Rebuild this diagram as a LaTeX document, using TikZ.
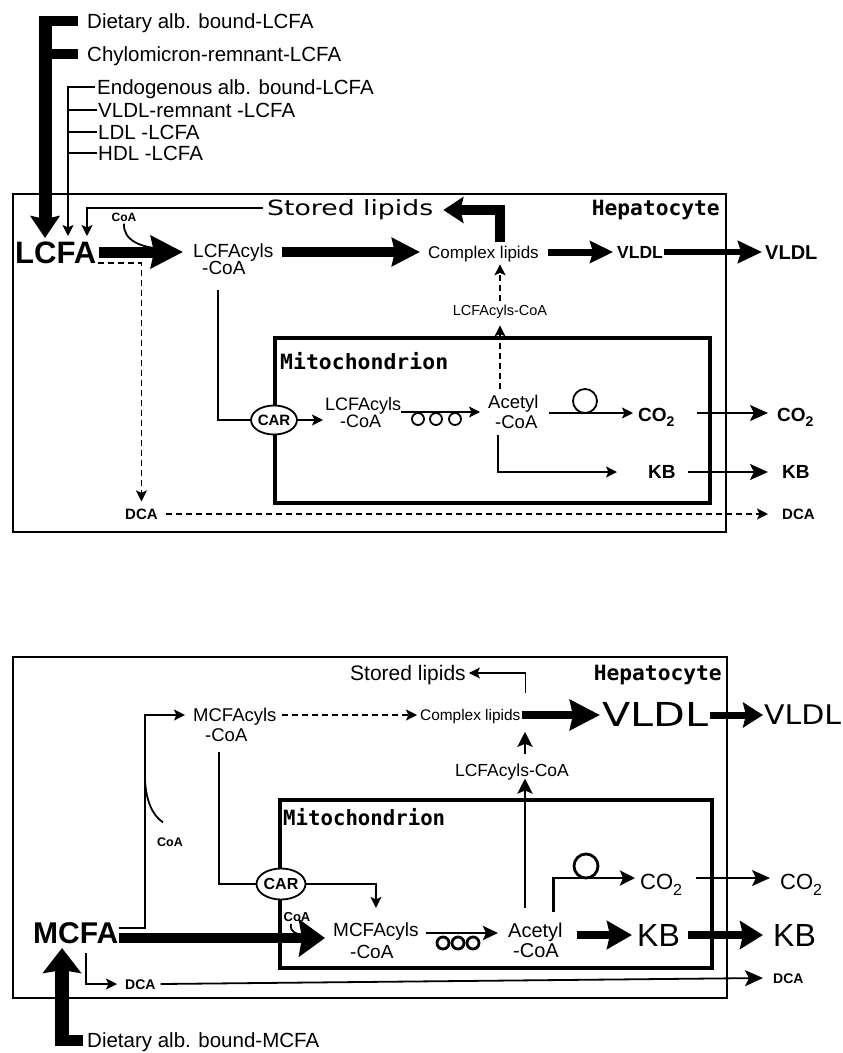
\documentclass[tikz,border=0pt]{standalone}
\usepackage{fontspec}
\usepackage{graphicx}
\setmainfont{Liberation Sans}
\newfontfamily\dvsans{DejaVu Sans}
\newfontfamily\dvmono{DejaVu Sans Mono}
\usetikzlibrary{arrows.meta,shapes.geometric}
\newcommand\fsz[1]{\fontsize{#1}{#1}\selectfont}
\newcommand\fitw[2]{\resizebox{#1pt}{\height}{#2}}
\begin{document}
\begin{tikzpicture}[x=1pt,y=-1pt,line cap=butt,line join=miter,
  th/.style={inner sep=0pt,/utils/exec={\pgfmathsetlengthmacro\mytxh{0.72*#1pt}},text height=\mytxh,text depth=0pt},
  tx/.style={th=#1,font=\fsz{#1}},
  tb/.style={th=#1,font=\fsz{#1}\bfseries},
  td/.style={th=#1,font=\fsz{#1}\dvsans},
  tm/.style={th=#1,font=\fsz{#1}\dvmono\bfseries},
  thin/.style={line width=1.8pt},
  ar/.style={thin,-{Stealth[length=11pt,width=11pt,inset=2.5pt]}},
  arL/.style={thin,-{Stealth[length=18pt,width=16pt,inset=4pt]}},
  ar3/.style={line width=2.8pt,-{Stealth[length=15pt,width=15pt,inset=3pt]}},
  dsh/.style={dash pattern=on 6pt off 4pt},
  fat/.style n args={3}{line width=#1,-{Stealth[length=#2,width=#3,inset=3pt]}},
  hep/.style={line width=2pt},
  mito/.style={line width=3.2pt},
  carn/.style={draw,ellipse,line width=1.8pt,inner sep=0pt,fill=white,font=\fsz{#1}\bfseries}]
\fill[white] (0,0) rectangle (843,1053);
\useasboundingbox (0,0) rectangle (843,1053);

% ================= TOP PANEL =================
\draw[hep] (13,194) rectangle (726,532);
\draw[mito] (275,338) rectangle (710,503);

\node[tx=20.5,anchor=west] (diet1) at (87,21) {Dietary alb. bound-LCFA};
\node[tx=20.5,anchor=west] (chylo) at (87,54) {Chylomicron-remnant-LCFA};
\node[tx=20.5,anchor=west] (endo) at (97,87) {Endogenous alb. bound-LCFA};
\node[tx=20.5,anchor=west] (vrem) at (98,110) {VLDL-remnant -LCFA};
\node[tx=20.5,anchor=west] (ldl) at (98,132) {LDL -LCFA};
\node[tx=20.5,anchor=west] (hdl) at (98,153) {HDL -LCFA};

\node[tb=31,anchor=west] (lcfa) at (15,252) {LCFA};
\node[tb=12] (coa1) at (124,217) {CoA};
\node[tx=19,anchor=west] (acyl1) at (193,251) {LCFAcyls};
\node[tx=19,anchor=west] (acyl1b) at (202,268) {-CoA};
\node[td=21,anchor=west] (stored1) at (267,208) {\fitw{166}{Stored lipids}};
\node[tx=17,anchor=west] (cplx1) at (428,252) {Complex lipids};
\node[tb=17.5,anchor=west] (vldl1) at (617,252) {VLDL};
\node[tb=20,anchor=west] (vldl2) at (765,252) {VLDL};
\node[tm=21,anchor=east] (hep1) at (720,208) {\fitw{128}{Hepatocyte}};
\node[tx=14.5] (mid1) at (500,310) {LCFAcyls-CoA};
\node[tm=21,anchor=west] (mito1) at (280,362) {\fitw{168}{Mitochondrion}};
\node[carn=15,minimum width=33pt,minimum height=29pt] (car1) at (274,420) {CAR};
\node[tx=18,anchor=west] (acyl2) at (325,404) {LCFAcyls};
\node[tx=18,anchor=west] (acyl2b) at (340,421) {-CoA};
\node[tx=18.5,anchor=west] (acet1) at (488,402) {Acetyl};
\node[tx=18.5,anchor=west] (acet1b) at (495,422) {-CoA};
\node[tb=19,anchor=west] (co2a) at (638,415) {CO\raisebox{-5pt}{\fsz{14}2}};
\node[tb=19,anchor=west] (co2b) at (777,415) {CO\raisebox{-5pt}{\fsz{14}2}};
\node[tb=19,anchor=west] (kba) at (648,472) {KB};
\node[tb=19,anchor=west] (kbb) at (782,472) {KB};
\node[tb=15,anchor=west] (dca1) at (125,514) {DCA};
\node[tb=15,anchor=west] (dca2) at (782,514) {DCA};

\coordinate (tipD) at (45,238);
\coordinate (tipE) at (68,236);
\coordinate (tipS) at (87,236);

% inputs
\draw[line width=10pt] ([xshift=-9pt]diet1.west) -- ([xshift=-6.5pt]diet1.west -| tipD);
\draw[fat={13pt}{22pt}{29pt}] ([yshift=5pt]diet1.west -| tipD) -- (tipD);
\draw[line width=10pt] ([xshift=-9pt]chylo.west) -- (chylo.west -| tipD);
\draw[ar] ([xshift=-2pt]endo.west) -| (tipE);
\foreach \n in {vrem,ldl,hdl} \draw[thin] ([xshift=-1pt]\n.west) -- (\n.west -| tipE);
\draw[ar] ([xshift=-4pt]stored1.west) -| (tipS);

% main flow
\draw[fat={11pt}{32pt}{32pt}] ([xshift=3pt]lcfa.east) -- ([xshift=-10pt]acyl1.west |- lcfa.east);
\draw[thin] ([yshift=-2pt]coa1.south) .. controls (123,240) and (140,248) .. (165,249);
\draw[ar,dsh] ([xshift=2pt]lcfa.south east) -| ([yshift=7pt]dca1.north);
\draw[ar,dsh] ([xshift=8pt]dca1.east) -- ([xshift=-14pt]dca2.west);
\draw[fat={10pt}{28pt}{28pt}] ([xshift=8pt]acyl1.east |- cplx1.west) -- ([xshift=-8pt]cplx1.west);
\draw[fat={10pt}{20pt}{26pt}] ([yshift=4pt]cplx1.north -| mid1.north) |- ([xshift=10pt,yshift=-2pt]stored1.east);
\draw[fat={7pt}{23pt}{22pt}] ([xshift=9pt]cplx1.east) -- ([xshift=-4pt]vldl1.west);
\draw[fat={6pt}{24pt}{22pt}] ([xshift=1pt]vldl1.east) -- ([xshift=-3pt]vldl2.west);
\draw[ar,dsh] ([yshift=4pt]mid1.north) -- ([yshift=-6pt]cplx1.south -| mid1.north);
\draw[ar,dsh] ([yshift=6pt]acet1.north -| mid1.south) -- ([yshift=-10pt]mid1.south);

% mitochondrion
\draw[thin] ([xshift=-6pt,yshift=-15pt]acyl1b.south) |- (car1.west);
\draw[ar] (car1.east) -- ([xshift=-2pt]car1.east -| acyl2.west);
\draw[ar] ([yshift=-8pt]acyl2.east) -- ([xshift=-8pt,yshift=-10pt]acet1.west);
\foreach \cx in {418,436,455} \draw[thin] (\cx,419) circle[radius=6pt];
\draw[ar] ([xshift=10pt,yshift=2pt]acet1.east |- co2a.west) -- ([xshift=-5pt,yshift=2pt]co2a.west);
\draw[thin] (585,401) circle[radius=12pt];
\draw[ar] ([xshift=-18pt,yshift=-6pt]acet1b.south) |- ([xshift=-31pt]kba.west);
\draw[arL] ([xshift=22pt,yshift=2pt]co2a.east) -- ([xshift=-9pt,yshift=2pt]co2b.west);
\draw[arL] ([xshift=12pt]kba.east) -- ([xshift=-14pt]kbb.west);

% ================= BOTTOM PANEL =================
\draw[hep] (13,657) rectangle (727,998);
\draw[mito] (280,800) rectangle (712,968);

\node[tm=21,anchor=east] (hep2) at (722,673) {\fitw{128}{Hepatocyte}};
\node[tx=21,anchor=west] (stored2) at (350,673) {Stored lipids};
\node[tx=18.5,anchor=west] (macyl1) at (193,715) {MCFAcyls};
\node[tx=18.5,anchor=west] (macyl1b) at (205,735) {-CoA};
\node[tx=15.4,anchor=west] (cplx2) at (420,715) {Complex lipids};
\node[td=33,anchor=west] (vldl3) at (602,715) {\fitw{106}{VLDL}};
\node[td=27,anchor=west] (vldl4) at (764,715) {\fitw{77}{VLDL}};
\node[tx=17.5] (mid2) at (512,770) {LCFAcyls-CoA};
\node[tm=21,anchor=west] (mito2) at (283,818) {\fitw{162}{Mitochondrion}};
\node[carn=16,minimum width=45pt,minimum height=31pt] (car2) at (281,884) {CAR};
\node[tb=13] (coa3) at (297,917) {CoA};
\node[tb=30,anchor=west] (mcfa) at (33,933) {MCFA};
\node[tx=19,anchor=west] (macyl2) at (333,930) {MCFAcyls};
\node[tx=19,anchor=west] (macyl2b) at (350,952) {-CoA};
\node[tx=20,anchor=west] (acet2) at (508,930) {Acetyl};
\node[tx=20,anchor=west] (acet2b) at (513,950) {-CoA};
\node[tx=22,anchor=west] (co2c) at (640,882) {CO\raisebox{-6pt}{\fsz{16}2}};
\node[tx=22,anchor=west] (co2d) at (780,882) {CO\raisebox{-6pt}{\fsz{16}2}};
\node[tx=32,anchor=west] (kbc) at (637,935) {KB};
\node[tx=32,anchor=west] (kbd) at (773,935) {KB};
\node[tb=14,anchor=west] (dca3) at (125,984) {DCA};
\node[tb=14,anchor=west] (dca4) at (773,978) {DCA};
\node[tb=12.5] (coa2) at (170,842) {CoA};
\node[tx=20.5,anchor=west] (diet2) at (87,1040) {Dietary alb. bound-MCFA};

\coordinate (up2) at (525,693);
\coordinate (c145) at (145,715);
\coordinate (tipM) at (62,948);

\draw[ar] ([xshift=5pt,yshift=16pt]cplx2.north east) |- ([xshift=3pt]stored2.east);
\draw[ar,dsh] ([xshift=5pt]macyl1.east) -- ([xshift=-3pt]cplx2.west);
\draw[fat={8pt}{30pt}{30pt}] ([xshift=1pt]cplx2.east) -- ([xshift=-2pt]vldl3.west);
\draw[fat={7pt}{20pt}{25pt}] ([xshift=2pt]vldl3.east) -- ([xshift=-1pt]vldl4.west);
\draw[ar3] ([yshift=10pt]mid2.north -| up2) -- ([yshift=-11pt]cplx2.south -| up2);
\draw[ar3] ([yshift=15pt]acet2.north -| up2) -- ([yshift=-2pt]mid2.south -| up2);

\draw[thin] ([xshift=-7pt,yshift=-10pt]macyl1b.south) |- (car2.west);
\draw[ar] (car2.east) -| ([yshift=15pt]macyl2.north);
\draw[fat={10pt}{26pt}{37pt}] ([xshift=1pt,yshift=-5pt]mcfa.east) -- ([xshift=-8pt,yshift=-8pt]macyl2.west);
\draw[thin] ([xshift=-6pt,yshift=-2pt]coa3.south) .. controls (289,932) and (298,936) .. (312,936);
\draw[ar] ([xshift=1pt,yshift=5pt]mcfa.east) -| (c145) -- ([xshift=-8pt]macyl1.west);
\draw[thin] ([yshift=-65pt]c145) .. controls (146,800) and (152,815) .. ([xshift=6pt,yshift=15pt]coa2.north west);
\draw[ar] ([xshift=10pt,yshift=-9pt]mcfa.south) |- ([xshift=-8pt]dca3.west);
\draw[arL] ([xshift=5pt]dca3.east) -- ([xshift=-10pt]dca4.west);

\draw[line width=2.8pt,-{Stealth[length=15pt,width=14pt,inset=3pt]}] ([xshift=7pt,yshift=-3pt]macyl2.east) -- ([xshift=-10pt,yshift=-3pt]acet2.west);
\foreach \cx in {443,458,473} \draw[line width=2.8pt] (\cx,943) circle[radius=6pt];

\draw[ar3] ([xshift=-9.5pt,yshift=11pt]acet2.north east) |- ([xshift=-5pt,yshift=4pt]co2c.west);
\draw[line width=2.8pt] (586,866) circle[radius=12pt];
\draw[arL] ([xshift=14pt,yshift=4pt]co2c.east) -- ([xshift=-10pt,yshift=4pt]co2d.west);
\draw[fat={8pt}{25pt}{28pt}] ([xshift=14pt,yshift=-5pt]acet2.east) -- ([xshift=-5pt]kbc.west);
\draw[fat={8pt}{23pt}{28pt}] ([xshift=8pt]kbc.east) -- ([xshift=-10pt]kbd.west);

\draw[line width=11pt] ([xshift=-4pt]diet2.west) -- ([xshift=-7pt]diet2.west -| tipM);
\draw[fat={14pt}{25pt}{38pt}] ([yshift=-5.5pt]diet2.west -| tipM) -- (tipM);
\end{tikzpicture}
\end{document}
